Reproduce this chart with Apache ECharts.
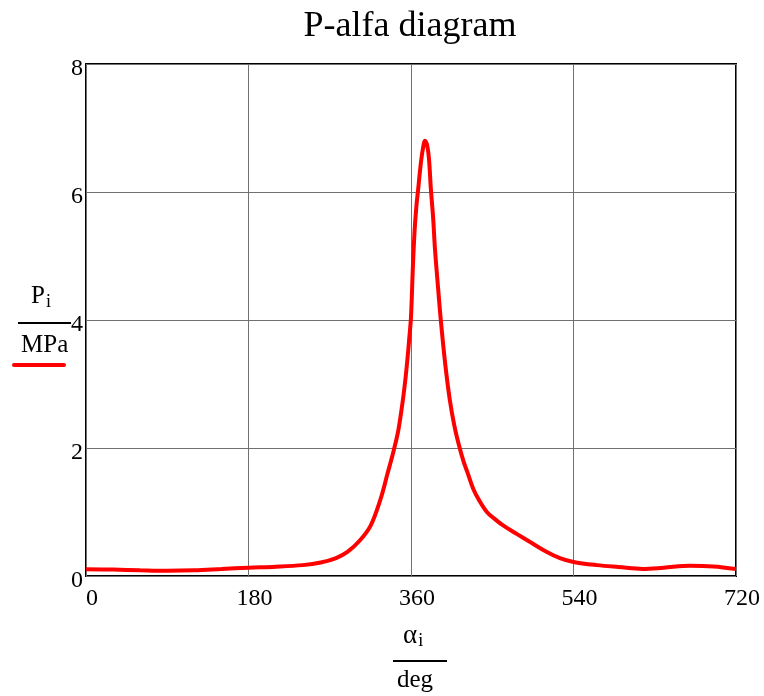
<!DOCTYPE html>
<html><head><meta charset="utf-8">
<script src="https://cdn.jsdelivr.net/npm/echarts@6/dist/echarts.min.js"></script>
<style>html,body{margin:0;padding:0;background:#fff}#c{width:764px;height:696px}</style>
</head><body><div id="c"></div>
<script>
const angles = [0, 30, 60, 90, 120, 150, 180, 210, 240, 260, 277, 290, 303, 315, 326, 334, 341, 346, 351, 354, 356, 358, 360, 362, 364, 366, 368, 370.5, 373, 375.5, 378, 380, 382, 384.5, 386.6, 390, 393, 398, 403, 408, 413, 418, 423, 429, 436, 444, 452, 462, 478, 492, 510, 525, 540, 566, 590, 617, 640, 669, 695, 720];
const pressure = [0.105, 0.1, 0.09, 0.083, 0.09, 0.11, 0.13, 0.145, 0.17, 0.21, 0.28, 0.38, 0.55, 0.78, 1.19, 1.6, 1.97, 2.28, 2.75, 3.1, 3.38, 3.7, 4.05, 4.8, 5.4, 5.78, 6.05, 6.4, 6.66, 6.8, 6.72, 6.5, 6.05, 5.6, 5.1, 4.5, 4.0, 3.3, 2.75, 2.35, 2.05, 1.8, 1.6, 1.36, 1.17, 1.0, 0.9, 0.79, 0.65, 0.53, 0.38, 0.28, 0.22, 0.17, 0.14, 0.11, 0.13, 0.16, 0.15, 0.11];
const xTicks = [0, 180, 360, 540, 720];
const yTicks = [0, 2, 4, 6, 8];
const title = 'P-alfa diagram';

const F = '"Liberation Serif", "Times New Roman", serif';
const chart = echarts.init(document.getElementById('c'));
chart.setOption({
  animation: false,
  title: { text: title, left: 405, textAlign: 'center', top: 4, textStyle: { fontFamily: F, fontSize: 36, fontWeight: 'normal', color: '#000' } },
  grid: { left: 86, top: 64, width: 650, height: 512, show: true, borderColor: '#000', borderWidth: 2, backgroundColor: 'transparent' },
  xAxis: {
    type: 'value', min: 0, max: 720, interval: 180,
    axisLine: { show: false }, axisTick: { show: false },
    splitLine: { show: true, lineStyle: { color: '#707070', width: 1 } },
    axisLabel: { fontFamily: F, fontSize: 24, color: '#000', margin: 11, padding: [0, 0, 0, 12],
      formatter: v => xTicks.includes(v) ? String(v) : '' }
  },
  yAxis: {
    type: 'value', min: 0, max: 8, interval: 2,
    axisLine: { show: false }, axisTick: { show: false },
    splitLine: { show: true, lineStyle: { color: '#707070', width: 1 } },
    axisLabel: { fontFamily: F, fontSize: 24, color: '#000', margin: 3, verticalAlign: 'top', lineHeight: 10,
      formatter: v => yTicks.includes(v) ? String(v) : '' }
  },
  series: [{
    type: 'line', smooth: 0.35, showSymbol: false,
    data: angles.map((a, i) => [a, pressure[i]]),
    lineStyle: { color: '#ff0000', width: 4 }
  }],
  graphic: [
    { type: 'text', left: 31, top: 284, style: { text: '{a|P}{s|i}', rich: { a: { fontFamily: F, fontSize: 25, fill: '#000' }, s: { fontFamily: F, fontSize: 18, fill: '#000', padding: [12, 0, 0, 1] } } } },
    { type: 'line', shape: { x1: 18, y1: 323, x2: 71, y2: 323 }, style: { stroke: '#000', lineWidth: 2 } },
    { type: 'text', left: 21, top: 333, style: { text: 'MPa', fontFamily: F, fontSize: 25, fill: '#000' } },
    { type: 'line', shape: { x1: 14, y1: 365, x2: 64, y2: 365 }, style: { stroke: '#ff0000', lineWidth: 4, lineCap: 'round' } },
    { type: 'text', left: 403, top: 622, style: { text: '{a|α}{s|i}', rich: { a: { fontFamily: F, fontSize: 27, fill: '#000' }, s: { fontFamily: F, fontSize: 18, fill: '#000', padding: [12, 0, 0, 1] } } } },
    { type: 'line', shape: { x1: 393, y1: 661, x2: 447, y2: 661 }, style: { stroke: '#000', lineWidth: 2 } },
    { type: 'text', left: 397, top: 668, style: { text: 'deg', fontFamily: F, fontSize: 25, fill: '#000' } }
  ]
});
</script></body></html>
